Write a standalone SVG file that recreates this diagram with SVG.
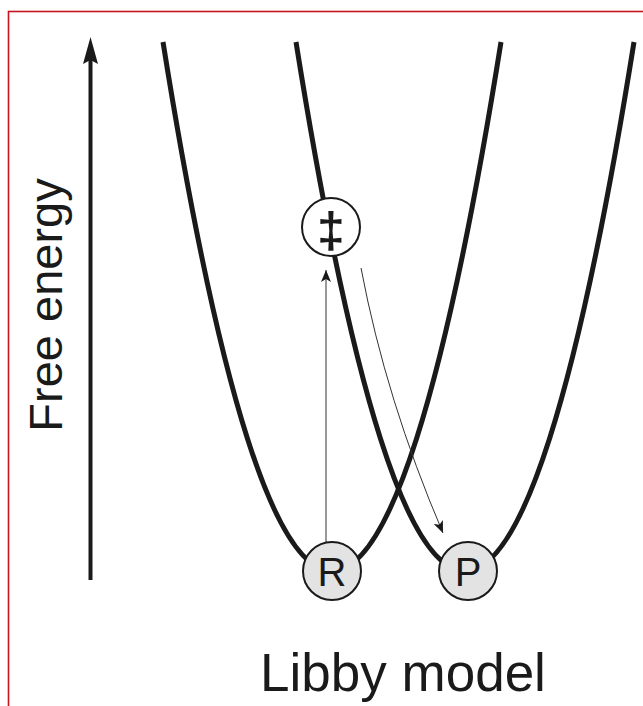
<svg xmlns="http://www.w3.org/2000/svg" width="643" height="706" viewBox="0 0 643 706">
<style>
.curve{fill:none;stroke:#1a1a1a;stroke-width:5;stroke-linecap:butt}
.thin{fill:none;stroke:#333;stroke-width:1}
.state{fill:#e3e3e3;stroke:#1a1a1a;stroke-width:2}
.ts{fill:#fff;stroke:#1a1a1a;stroke-width:2}
.lbl{font-family:"Liberation Sans",Arial,sans-serif;fill:#1a1a1a}
</style>
<defs>
<marker id="ah" viewBox="0 0 12 10" refX="12" refY="5" markerWidth="12" markerHeight="10" markerUnits="userSpaceOnUse" orient="auto">
<path d="M0,0 L12,5 L0,10 L3,5 Z" fill="#1a1a1a"/>
</marker>
</defs>
<rect x="8.5" y="11.5" width="700" height="800" fill="#fff" stroke="#c8141e" stroke-width="1.6"/>
<g id="axis">
<line x1="90.5" y1="60" x2="90.5" y2="580" stroke="#1a1a1a" stroke-width="4"/>
<path d="M90.5,37 L98,64 L90.5,60 L83,64 Z" fill="#1a1a1a"/>
<text class="lbl" transform="translate(62,305) rotate(-90)" text-anchor="middle" font-size="47">Free energy</text>
</g>
<g id="connectors">
<path class="curve" d="M163,42 Q332,1100 501,42"/>
<path class="curve" d="M296,42 Q465,1100 634,42"/>
<line class="thin" x1="326" y1="542" x2="326" y2="270" marker-end="url(#ah)"/>
<path class="thin" d="M361,268 Q386,400 443,533" marker-end="url(#ah)"/>
</g>
<g id="node-ts">
<circle class="ts" cx="331" cy="227" r="29"/>
<text class="lbl" x="331" y="247" text-anchor="middle" font-size="50" font-weight="bold">‡</text>
</g>
<g id="node-R">
<circle class="state" cx="332" cy="571" r="29"/>
<text class="lbl" x="332" y="586" text-anchor="middle" font-size="40">R</text>
</g>
<g id="node-P">
<circle class="state" cx="468" cy="571" r="29"/>
<text class="lbl" x="468" y="586" text-anchor="middle" font-size="40">P</text>
</g>
<g id="title">
<text class="lbl" x="403" y="691" text-anchor="middle" font-size="53">Libby model</text>
</g>
</svg>
